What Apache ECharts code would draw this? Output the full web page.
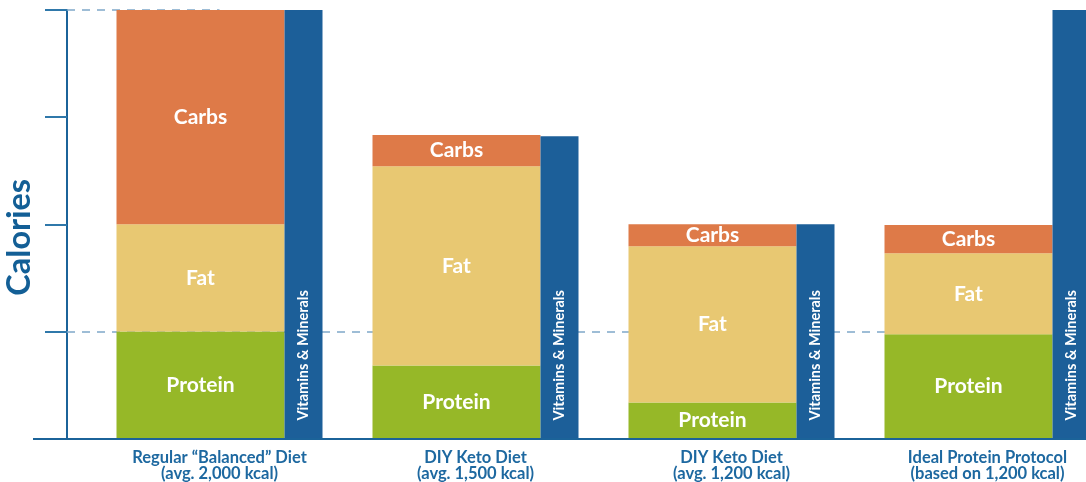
<!DOCTYPE html>
<html>
<head>
<meta charset="utf-8">
<script src="https://cdn.jsdelivr.net/npm/echarts@6/dist/echarts.min.js"></script>
<style>
html,body{margin:0;padding:0;background:#fff;}
#c{width:1086px;height:482px;}
</style>
</head>
<body>
<div id="c"></div>
<script>
const categories = ['Regular \u201cBalanced\u201d Diet\n(avg. 2,000 kcal)', 'DIY Keto Diet\n(avg. 1,500 kcal)', 'DIY Keto Diet\n(avg. 1,200 kcal)', 'Ideal Protein Protocol\n(based on 1,200 kcal)'];
const protein = [500, 341, 168, 486];
const fat = [500, 930, 729, 379];
const carbs = [1000, 145, 103, 131];
const vitamins = [2000, 1411, 1000, 2000];
const yTicks = [0, 500, 1000, 1500, 2000];

const BLUE = '#1b6399';
const gridLeft = 91.5, axisOffset = 24.5;
const axisX = gridLeft - axisOffset;

const chart = echarts.init(document.getElementById('c'));
const segLabel = {
  show: true, position: 'inside', color: '#fff', fontWeight: 'bold',
  fontSize: 21, fontFamily: 'Lato', formatter: p => p.seriesName
};
chart.setOption({
  animation: false,
  grid: {left: gridLeft, width: 1024, top: 10, bottom: 43.5, containLabel: false, outerBoundsMode: 'none'},
  xAxis: {
    type: 'category', data: categories,
    axisLine: {show: false}, axisTick: {show: false},
    axisLabel: {color: '#1d68a0', fontWeight: 'bold', fontSize: 16.5, fontFamily: 'Lato', lineHeight: 16, margin: 11, interval: 0}
  },
  yAxis: {
    type: 'value', min: yTicks[0], max: yTicks[yTicks.length - 1], interval: 500,
    offset: axisOffset,
    name: 'Calories', nameLocation: 'middle', nameGap: 31, nameRotate: 90,
    nameTextStyle: {color: '#135f96', fontWeight: 'bold', fontSize: 32.5, fontFamily: 'Lato', padding: [0, 26, 0, 0]},
    axisLine: {show: true, lineStyle: {color: BLUE, width: 2}},
    axisTick: {show: true, inside: false, length: 22, lineStyle: {color: '#2f78aa', width: 2}},
    axisLabel: {show: false},
    splitLine: {show: false}
  },
  series: [
    {
      name: 'guides', type: 'line', data: [], z: 1, silent: true,
      markLine: {
        z: 1, silent: true, symbol: 'none', label: {show: false},
        lineStyle: {color: '#7fa8c9', type: [8, 7], width: 1.5},
        data: [
          [{yAxis: 500, x: axisX}, {yAxis: 500, x: '100%'}],
          [{yAxis: 2000, x: axisX}, {yAxis: 2000, xAxis: 0}]
        ]
      }
    },
    {
      name: 'baseline', type: 'line', data: [], z: 6, silent: true,
      markLine: {
        z: 6, silent: true, symbol: 'none', label: {show: false},
        lineStyle: {color: BLUE, type: 'solid', width: 2},
        data: [[{yAxis: 0, x: 33}, {yAxis: 0, x: '100%'}]]
      }
    },
    {name: 'Protein', type: 'bar', stack: 'main', data: protein, barWidth: 168, barGap: '0%', z: 3,
     itemStyle: {color: '#96b828'}, label: segLabel},
    {name: 'Fat', type: 'bar', stack: 'main', data: fat, z: 3,
     itemStyle: {color: '#e8c872'}, label: segLabel},
    {name: 'Carbs', type: 'bar', stack: 'main', data: carbs, z: 3,
     itemStyle: {color: '#de7a48'}, label: segLabel},
    {name: 'Vitamins & Minerals', type: 'bar', data: vitamins, barWidth: 38, barGap: '0%', z: 3,
     itemStyle: {color: '#1c5f99'},
     label: {show: true, position: 'insideBottom', rotate: 90, align: 'left', verticalAlign: 'middle',
       distance: 18, color: '#fff', fontWeight: 'bold', fontSize: 14.5, fontFamily: 'Lato',
       formatter: p => p.seriesName}}
  ]
});
</script>
</body>
</html>
